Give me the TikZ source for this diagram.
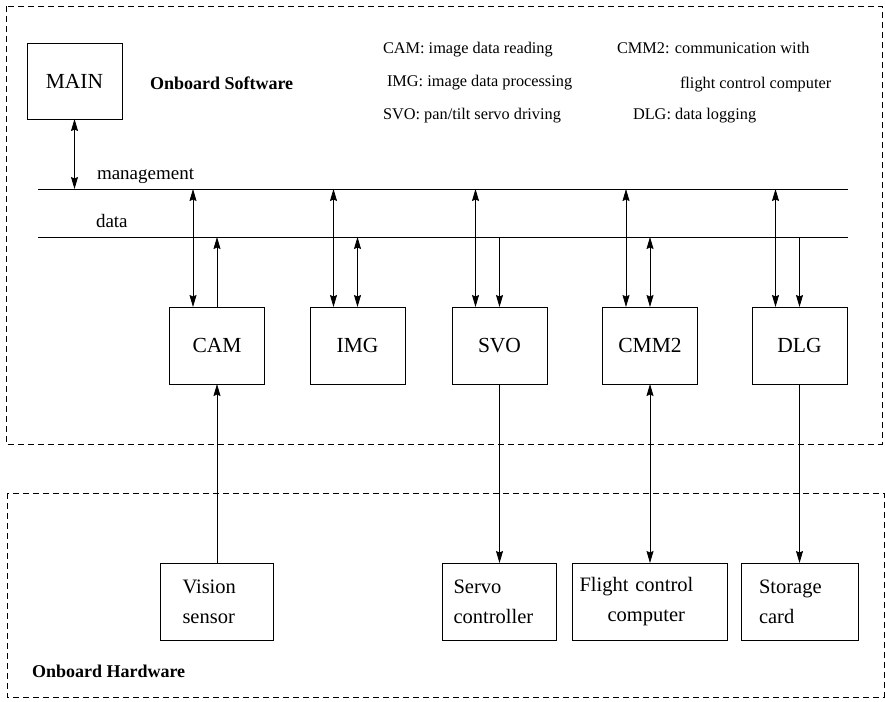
\documentclass[tikz,border=0pt]{standalone}
\usepackage{fontspec}
\setmainfont{Liberation Serif}
\usetikzlibrary{arrows.meta}
\begin{document}
\begin{tikzpicture}[x=1pt,y=-1pt,
  every node/.style={inner sep=0pt, outer sep=0pt},
  region/.style={draw, dash pattern=on 6pt off 4pt, line width=0.8pt},
  module/.style={draw, line width=0.8pt, minimum width=95pt, minimum height=77pt,
    font=\fontsize{21.5}{25}\selectfont},
  device/.style={draw, line width=0.8pt, minimum height=77pt, align=left,
    font=\fontsize{20.5}{30}\selectfont},
  bus/.style={line width=0.8pt},
  link/.style={line width=0.8pt, >={Stealth[length=12pt,width=7pt,inset=1.5pt]}},
  legend/.style={anchor=base west, font=\fontsize{16.3}{19}\selectfont},
  buslabel/.style={anchor=base west, font=\fontsize{19}{22}\selectfont},
  title/.style={anchor=base west, font=\fontsize{18}{21}\selectfont\bfseries}]

\useasboundingbox (0,0) rectangle (885,701);

% software and hardware regions
\draw[region] (6,6) rectangle (882,444);
\draw[region] (7,493) rectangle (884,697);

% main task
\node[module, minimum width=95pt, minimum height=76pt, text depth=-3pt] (main) at (74.5,81) {MAIN};
\node[title] (sw) at (150,89) {Onboard Software};
\node[title] (hw) at (32,677) {Onboard Hardware};

% task legend
\node[legend] (lcam) at (383,54) {CAM: image data reading};
\node[legend] (limg) at (387,86) {IMG: image data processing};
\node[legend] (lsvo) at (383,119) {SVO: pan/tilt servo driving};
\node[legend] (lcmm) at (617,54) {CMM2: communication with};
\node[legend] (lcmmb) at (680,88) {flight control computer};
\node[legend] (ldlg) at (633,119) {DLG: data logging};

% management and data buses
\coordinate (mgL) at (38,189);
\coordinate (mgR) at (848,189);
\coordinate (daL) at (38,237);
\coordinate (daR) at (848,237);
\draw[bus] (mgL) -- (mgR);
\draw[bus] (daL) -- (daR);
\node[buslabel] (lmg) at (97,179) {management};
\node[buslabel] (lda) at (96,227) {data};

% software tasks
\node[module] (cam) at (217,345.5) {CAM};
\node[module] (img) at (357.5,345.5) {IMG};
\node[module] (svo) at (499.5,345.5) {SVO};
\node[module] (cmm) at (650,345.5) {CMM2};
\node[module] (dlg) at (799.5,345.5) {DLG};

% hardware devices
\node[device, inner xsep=22pt, text width=69pt] (vis) at (217,601.5) {Vision\\sensor};
\node[device, inner xsep=11pt, text width=92pt] (srv) at (499.5,601.5) {Servo\\controller};
\node[device, inner xsep=7pt, text width=141pt] (fcc) at (650,601.5) {Flight control\\\hspace*{28pt}computer};
\node[device, inner xsep=18pt, text width=81pt] (sto) at (799.5,601.5) {Storage\\card};

% main to management bus
\draw[link,<->] (main.south) -- (main.south |- mgL);

% tasks to management bus
\foreach \t in {cam,img,svo,cmm,dlg}
  \draw[link,<->] ([xshift=-24pt]\t.north) -- ([xshift=-24pt]\t.north |- mgL);

% tasks to data bus
\draw[link,->] (cam.north) -- (cam.north |- daL);
\draw[link,<->] (img.north) -- (img.north |- daL);
\draw[link,->] (svo.north |- daL) -- (svo.north);
\draw[link,<->] (cmm.north) -- (cmm.north |- daL);
\draw[link,->] (dlg.north |- daL) -- (dlg.north);

% tasks to devices
\draw[link,->] (vis.north) -- (cam.south);
\draw[link,->] (svo.south) -- (srv.north);
\draw[link,<->] (cmm.south) -- (fcc.north);
\draw[link,->] (dlg.south) -- (sto.north);
\end{tikzpicture}
\end{document}
